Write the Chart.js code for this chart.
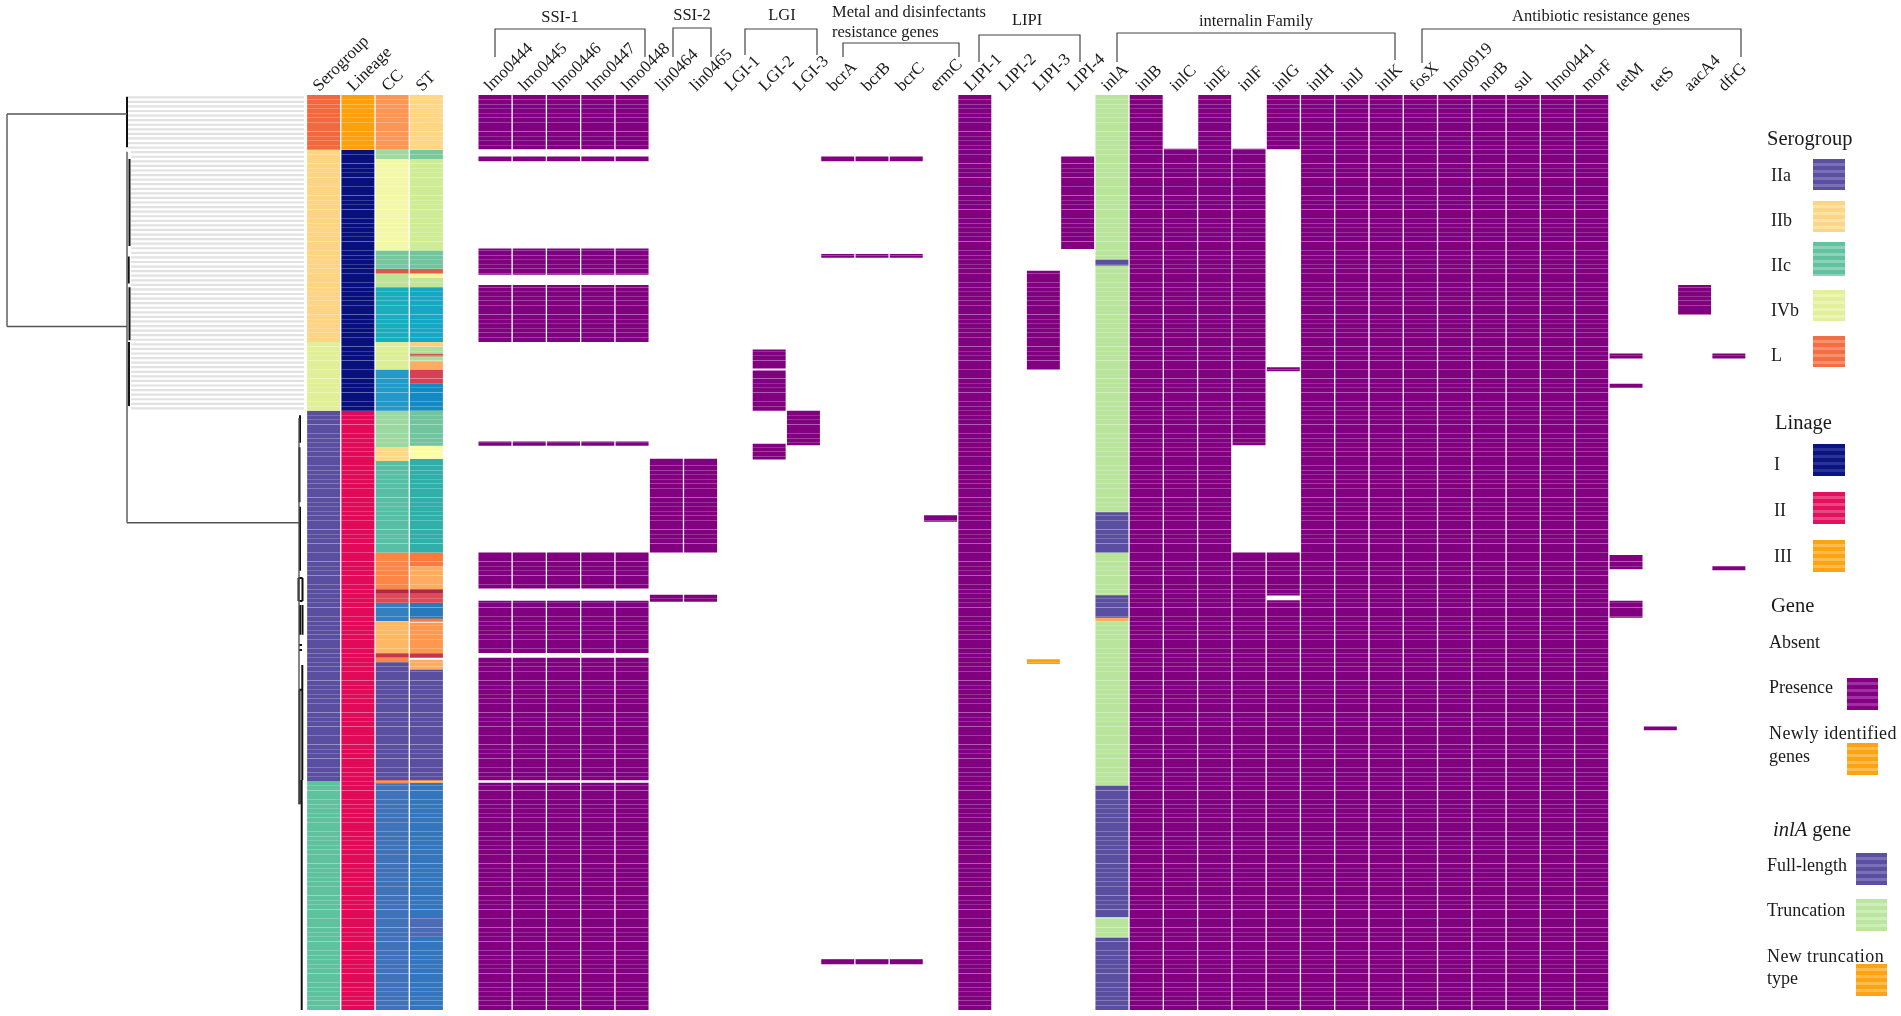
<!DOCTYPE html>
<html lang="en">
<head>
  <meta charset="UTF-8" />
  <title>Listeria genome heatmap</title>
  <script src="https://cdn.jsdelivr.net/npm/chart.js"></script>
  <style>
    * { margin: 0; padding: 0; box-sizing: border-box; }
    html, body { width: 1901px; height: 1016px; overflow: hidden; background: #fff; }
    body { position: relative; font-family: 'Liberation Serif', serif; color: #1a1a1a; }
    #wrap { position: absolute; left: -2px; top: 0; width: 1903px; height: 1016px; filter: blur(0.55px); }
    .t { position: absolute; transform: translateY(-50%); white-space: nowrap; font-size: 18px; line-height: 1; }
    .h { font-size: 20.5px; }
    .s { position: absolute; background: repeating-linear-gradient(180deg, var(--a) 0 4px, var(--b) 4px 7px); }
    .g1 { left: 1813px; width: 32px; }
    .g2 { left: 1847px; width: 31px; }
    .g3 { left: 1856px; width: 31px; }
  </style>
</head>
<body>
  <div id="wrap"><canvas id="heat" width="1903" height="1016"></canvas></div>

  <div class="t h" style="left:1767px;top:138px">Serogroup</div>
  <div class="t" style="left:1771px;top:175px">IIa</div>
  <div class="s g1" style="top:159px;height:31px;--a:#5a4fa0;--b:#7a70b6"></div>
  <div class="t" style="left:1771px;top:220px">IIb</div>
  <div class="s g1" style="top:201px;height:31px;--a:#fdd587;--b:#fde2a6"></div>
  <div class="t" style="left:1771px;top:265px">IIc</div>
  <div class="s g1" style="top:242px;height:34px;--a:#62c2a0;--b:#8bd3ba"></div>
  <div class="t" style="left:1771px;top:310px">IVb</div>
  <div class="s g1" style="top:290px;height:31px;--a:#e2f09c;--b:#ecf5b6"></div>
  <div class="t" style="left:1771px;top:355px">L</div>
  <div class="s g1" style="top:336px;height:31px;--a:#f46d43;--b:#f88f6d"></div>

  <div class="t h" style="left:1775px;top:422px">Linage</div>
  <div class="t" style="left:1774px;top:464px">I</div>
  <div class="s g1" style="top:444px;height:32px;--a:#0b1483;--b:#2a3296"></div>
  <div class="t" style="left:1774px;top:510px">II</div>
  <div class="s g1" style="top:492px;height:32px;--a:#e3105f;--b:#e8467f"></div>
  <div class="t" style="left:1774px;top:556px">III</div>
  <div class="s g1" style="top:540px;height:32px;--a:#fda414;--b:#fdbc50"></div>

  <div class="t h" style="left:1771px;top:605px">Gene</div>
  <div class="t" style="left:1769px;top:642px">Absent</div>
  <div class="t" style="left:1769px;top:687px">Presence</div>
  <div class="s g2" style="top:678px;height:32px;--a:#820082;--b:#a030a0"></div>
  <div class="t" style="left:1769px;top:733px;letter-spacing:.4px">Newly identified</div>
  <div class="t" style="left:1769px;top:756px">genes</div>
  <div class="s g2" style="top:743px;height:32px;--a:#fda414;--b:#fdbc50"></div>

  <div class="t h" style="left:1773px;top:829px"><i>inlA</i> gene</div>
  <div class="t" style="left:1767px;top:865px">Full-length</div>
  <div class="s g3" style="top:853px;height:32px;--a:#5a4fa0;--b:#7a70b6"></div>
  <div class="t" style="left:1767px;top:910px">Truncation</div>
  <div class="s g3" style="top:899px;height:32px;--a:#bce6a0;--b:#cdeeb8"></div>
  <div class="t" style="left:1767px;top:956px;letter-spacing:.4px">New truncation</div>
  <div class="t" style="left:1767px;top:978px">type</div>
  <div class="s g3" style="top:964px;height:32px;--a:#fda414;--b:#fdbc50"></div>

  <script>
    const rowCount = 200;
    const spacerLabels = ['', '', '', '', '', '', '', '', ''];
    const trackLabels = ['Serogroup', 'Lineage', 'CC', 'ST'];
    const ssi1Labels = ['lmo0444', 'lmo0445', 'lmo0446', 'lmo0447', 'lmo0448'];
    const ssi2Labels = ['lin0464', 'lin0465'];
    const lgiLabels = ['LGI-1', 'LGI-2', 'LGI-3'];
    const metalLabels = ['bcrA', 'bcrB', 'bcrC', 'ermC'];
    const lipiLabels = ['LIPI-1', 'LIPI-2', 'LIPI-3', 'LIPI-4'];
    const inlLabels = ['inlA', 'inlB', 'inlC', 'inlE', 'inlF', 'inlG', 'inlH', 'inlJ', 'inlK'];
    const abrLabels = ['fosX', 'lmo0919', 'norB', 'sul', 'lmo0441', 'morF', 'tetM', 'tetS', 'aacA4', 'dfrG'];

    // annotation tracks: [first row, end row, class]
    const serogroupRows = [[0, 12, 'L'], [12, 54, 'IIb'], [54, 69, 'IVb'], [69, 150, 'IIa'], [150, 200, 'IIc']];
    const lineageRows = [[0, 12, 'III'], [12, 69, 'I'], [69, 200, 'II']];
    const ccRows = [
      [0, 12, 'cc1'], [12, 14, 'cc2'], [14, 34, 'cc3'], [34, 38, 'cc4'], [38, 39, 'cc5'], [39, 42, 'cc6'],
      [42, 54, 'cc7'], [54, 60, 'cc8'], [60, 69, 'cc9'], [69, 77, 'cc10'], [77, 80, 'cc11'], [80, 100, 'cc12'],
      [100, 108, 'cc13'], [108, 109, 'cc14'], [109, 111, 'cc15'], [111, 115, 'cc16'], [115, 122, 'cc17'],
      [122, 123, 'cc18'], [123, 124, 'cc13'], [124, 149.7, 'IIa'], [149.7, 150.4, 'cc13'], [150.4, 200, 'cc19']
    ];
    const stRows = [
      [0, 12, 'st1'], [12, 14, 'st2'], [14, 34, 'st3'], [34, 38, 'st4'], [38, 39, 'st5'], [39, 40, 'st6'],
      [40, 42, 'st7'], [42, 54, 'st8'], [54, 55, 'st9'], [55, 56.5, 'st10'], [56.5, 57.2, 'st11'],
      [57.2, 58.3, 'st10'], [58.3, 60, 'st12'], [60, 63, 'st13'], [63, 69, 'st14'], [69, 76.6, 'st4'],
      [76.6, 79.5, 'st15'], [79.5, 100, 'st16'], [100, 103, 'st17'], [103, 108, 'st12'], [108, 109, 'cc14'],
      [109, 111, 'cc15'], [111, 114.5, 'st18'], [114.5, 115.2, 'st17'], [115.5, 122, 'st19'], [122, 123, 'cc18'],
      [123.5, 125.7, 'st12'], [125.7, 149.7, 'IIa'], [149.7, 150.3, 'st12'], [150.4, 179.6, 'st20'],
      [179.6, 184.3, 'st21'], [184.3, 200, 'st20']
    ];
    const inlARows = [
      [0, 36, 'trunc'], [36, 37.2, 'IIa'], [37.2, 91.3, 'trunc'], [91.3, 100, 'IIa'], [100, 109.4, 'trunc'],
      [109.4, 114.2, 'IIa'], [114.2, 115, 'st12'], [115, 151, 'trunc'], [151, 179.6, 'IIa'],
      [179.6, 184.3, 'trunc'], [184.3, 200, 'IIa']
    ];

    // gene presence, [first row, end row]
    const ssi1Rows = [[0, 11.8], [13.5, 14.4], [33.6, 39.2], [41.6, 54], [75.8, 76.6], [100, 107.8], [110.6, 122], [123, 149.7], [150.4, 200]];
    const ssi2Rows = [[79.6, 100], [109.3, 110.7]];
    const lgi2Rows = [[55.7, 59.7], [60.3, 69], [76.3, 79.6]];
    const lgi3Rows = [[69, 76.5]];
    const bcrRows = [[13.5, 14.4], [34.8, 35.5], [188.9, 190]];
    const ermCRows = [[91.9, 93.2]];
    const lipi1Rows = [[0, 200]];
    const lipi3Rows = [[38.5, 60]];
    const lipi3NewRows = [[123.4, 124.3]];
    const lipi4Rows = [[13.5, 33.6]];
    const inlCRows = [[11.8, 200]];
    const inlFRows = [[11.8, 76.5], [100, 200]];
    const inlGRows = [[0, 11.8], [59.6, 60.3], [100, 109.3], [110.5, 200]];
    const fullRows = [[0, 200]];
    const tetMRows = [[56.6, 57.5], [63.2, 64], [100.6, 103.6], [110.6, 114.2]];
    const tetSRows = [[138, 138.8]];
    const aacA4Rows = [[41.6, 48]];
    const dfrGRows = [[56.6, 57.5], [103, 103.8]];

    // tree: [distance, row, distance, row]
    const treeTrunk = [
      [7, 4.15, 7, 50.6], [7, 4.15, 127, 4.15], [7, 50.6, 127, 50.6], [127, 12.4, 127, 93.5],
      [127, 93.5, 299, 93.5], [299, 70.6, 299, 155]
    ];
    const treeClades = [
      [127, 0.4, 127, 11.4], [129.5, 14, 129.5, 33], [128.7, 35.3, 128.7, 41.2], [129.5, 42, 129.5, 53.6],
      [129, 54, 129, 68], [300, 70, 300, 76], [299.5, 77, 299.5, 89], [300, 90, 300, 104],
      [298.5, 105.6, 298.5, 110.6], [302.5, 105.6, 302.5, 110.6],
      [298.5, 105.6, 302.5, 105.6], [299.5, 110.6, 302.5, 110.6], [300, 111.5, 300, 118], [302.5, 111.5, 302.5, 118],
      [299, 120.2, 302, 120.2], [299, 121.3, 302, 121.3], [302.3, 124.6, 302.3, 149.7], [299, 130, 302.3, 130],
      [299.5, 130, 299.5, 155], [301.7, 149.7, 301.7, 200]
    ];
    const leafStart = [[0, 12, 128], [12, 69, 131]];
    const leafEnd = 304;

    const palette = {
      L: '#f26840', IIb: '#fdd482', IVb: '#e1f097', IIa: '#5a4ea0', IIc: '#5fc29f',
      III: '#fda00c', I: '#08107e', II: '#e00a58',
      cc1: '#fb9654', cc2: '#a0d9a0', cc3: '#f3f8a8', cc4: '#76c69e', cc5: '#d75a48', cc6: '#bbe496',
      cc7: '#18aebe', cc8: '#dcef96', cc9: '#2498c8', cc10: '#9cd9a0', cc11: '#fdda86', cc12: '#58bfa6',
      cc13: '#fb8646', cc14: '#b02846', cc15: '#de4a56', cc16: '#3280c0', cc17: '#fdb864', cc18: '#c43650', cc19: '#4072ba',
      st1: '#fed684', st2: '#7ac89e', st3: '#ceec94', st4: '#70c49e', st5: '#e25e48', st6: '#f8f59a', st7: '#c0e696',
      st8: '#14a8c6', st9: '#fdcd80', st10: '#aedd9c', st11: '#de5454', st12: '#fdac60', st13: '#d64054',
      st14: '#148ac4', st15: '#fbfba8', st16: '#30aeaa', st17: '#fb783e', st18: '#267abc', st19: '#fd984e',
      st20: '#3476be', st21: '#4c6bb6',
      trunc: '#b9e49c', present: '#800080', fresh: '#fda00c'
    };

    const labels = spacerLabels.concat(trackLabels, [' '], ssi1Labels, ssi2Labels, lgiLabels, metalLabels, lipiLabels, inlLabels, abrLabels);

    const cellsByColor = {};
    // split a run into single row cells so the row gaps show up as stripes
    function addRuns(label, runs, key) {
      runs.forEach(run => {
        const k = run[2] || key;
        cellsByColor[k] = cellsByColor[k] || [];
        for (let r = Math.floor(run[0]); r < run[1]; r++) {
          const from = Math.max(r + 0.08, run[0]);
          const to = Math.min(r + 0.92, run[1]);
          if (to > from) cellsByColor[k].push({ x: label, y: [from, to] });
        }
      });
    }

    addRuns('Serogroup', serogroupRows);
    addRuns('Lineage', lineageRows);
    addRuns('CC', ccRows);
    addRuns('ST', stRows);
    addRuns('inlA', inlARows);
    ssi1Labels.forEach(g => addRuns(g, ssi1Rows, 'present'));
    ssi2Labels.forEach(g => addRuns(g, ssi2Rows, 'present'));
    addRuns('LGI-2', lgi2Rows, 'present');
    addRuns('LGI-3', lgi3Rows, 'present');
    ['bcrA', 'bcrB', 'bcrC'].forEach(g => addRuns(g, bcrRows, 'present'));
    addRuns('ermC', ermCRows, 'present');
    addRuns('LIPI-1', lipi1Rows, 'present');
    addRuns('LIPI-3', lipi3Rows, 'present');
    addRuns('LIPI-3', lipi3NewRows, 'fresh');
    addRuns('LIPI-4', lipi4Rows, 'present');
    addRuns('inlC', inlCRows, 'present');
    addRuns('inlF', inlFRows, 'present');
    addRuns('inlG', inlGRows, 'present');
    ['inlB', 'inlE', 'inlH', 'inlJ', 'inlK', 'fosX', 'lmo0919', 'norB', 'sul', 'lmo0441', 'morF'].forEach(g => addRuns(g, fullRows, 'present'));
    addRuns('tetM', tetMRows, 'present');
    addRuns('tetS', tetSRows, 'present');
    addRuns('aacA4', aacA4Rows, 'present');
    addRuns('dfrG', dfrGRows, 'present');

    const barSets = Object.keys(cellsByColor).map(k => ({
      type: 'bar',
      data: cellsByColor[k],
      backgroundColor: palette[k],
      borderWidth: 0,
      grouped: false,
      barThickness: 32.3,
      xAxisID: 'x',
      yAxisID: 'y'
    }));

    function segments(list) {
      const pts = [];
      list.forEach(s => {
        pts.push({ x: s[0], y: s[1] }, { x: s[2], y: s[3] }, { x: s[2], y: null });
      });
      return pts;
    }
    function treeSet(list, color, width) {
      return {
        type: 'line', data: segments(list), borderColor: color, borderWidth: width,
        pointRadius: 0, fill: false, tension: 0, xAxisID: 'xTree', yAxisID: 'y', clip: false
      };
    }

    const leafLines = [];
    leafStart.forEach(b => {
      for (let r = b[0]; r < b[1]; r++) leafLines.push([b[2], r + 0.5, leafEnd, r + 0.5]);
    });

    // bracket and title above each gene group
    const groupBrackets = [
      { text: ['SSI-1'], tx: 560, ty: [18], l: 495, r: 645, top: 29, lb: 57, rb: 57 },
      { text: ['SSI-2'], tx: 692, ty: [16], l: 673, r: 711, top: 28, lb: 57, rb: 57 },
      { text: ['LGI'], tx: 782, ty: [16], l: 745, r: 817, top: 29, lb: 55, rb: 55 },
      { text: ['Metal and disinfectants', 'resistance genes'], tx: 832, ty: [13, 33], left: true, l: 843, r: 959, top: 43, lb: 57, rb: 57 },
      { text: ['LIPI'], tx: 1027, ty: [21], l: 979, r: 1080, top: 35, lb: 62, rb: 62 },
      { text: ['internalin Family'], tx: 1256, ty: [22], l: 1117, r: 1395, top: 33, lb: 62, rb: 60 },
      { text: ['Antibiotic resistance genes'], tx: 1601, ty: [17], l: 1422, r: 1741, top: 29, lb: 63, rb: 57 }
    ];
    const bracketPlugin = {
      id: 'groupBrackets',
      afterDraw(chart) {
        const c = chart.ctx;
        const off = 2; // canvas sits 2px left of the page
        c.save();
        c.strokeStyle = '#444';
        c.lineWidth = 1.2;
        c.fillStyle = '#1a1a1a';
        c.font = "16.5px 'Liberation Serif'";
        c.textBaseline = 'middle';
        groupBrackets.forEach(b => {
          c.beginPath();
          c.moveTo(b.l + off, b.lb);
          c.lineTo(b.l + off, b.top);
          c.lineTo(b.r + off, b.top);
          c.lineTo(b.r + off, b.rb);
          c.stroke();
          c.textAlign = b.left ? 'left' : 'center';
          b.text.forEach((t, i) => c.fillText(t, b.tx + off, b.ty[i]));
        });
        c.restore();
      }
    };

    new Chart(document.getElementById('heat').getContext('2d'), {
      data: {
        labels: labels,
        datasets: [
          treeSet(leafLines, '#e2e2e2', 2.2),
          treeSet(treeTrunk, '#555', 1.4),
          treeSet(treeClades, '#111', 2),
          ...barSets
        ]
      },
      options: {
        responsive: false,
        animation: false,
        events: [],
        layout: { padding: { left: 0, right: 155, top: 0, bottom: 6 } },
        plugins: { legend: { display: false }, tooltip: { enabled: false } },
        scales: {
          x: {
            type: 'category',
            position: 'top',
            offset: true,
            grid: { display: false },
            border: { display: false },
            ticks: {
              autoSkip: false,
              minRotation: 45,
              maxRotation: 45,
              padding: -9,
              labelOffset: 7,
              color: '#1a1a1a',
              font: { family: "'Liberation Serif'", size: 17 }
            },
            afterFit(scale) {
              scale.height = 95;
              scale.paddingLeft = 0;
              scale.paddingRight = 0;
            }
          },
          xTree: { type: 'linear', display: false, min: -2, max: 1746 },
          y: { type: 'linear', display: false, reverse: true, min: 0, max: rowCount }
        }
      },
      plugins: [bracketPlugin]
    });
  </script>
</body>
</html>
